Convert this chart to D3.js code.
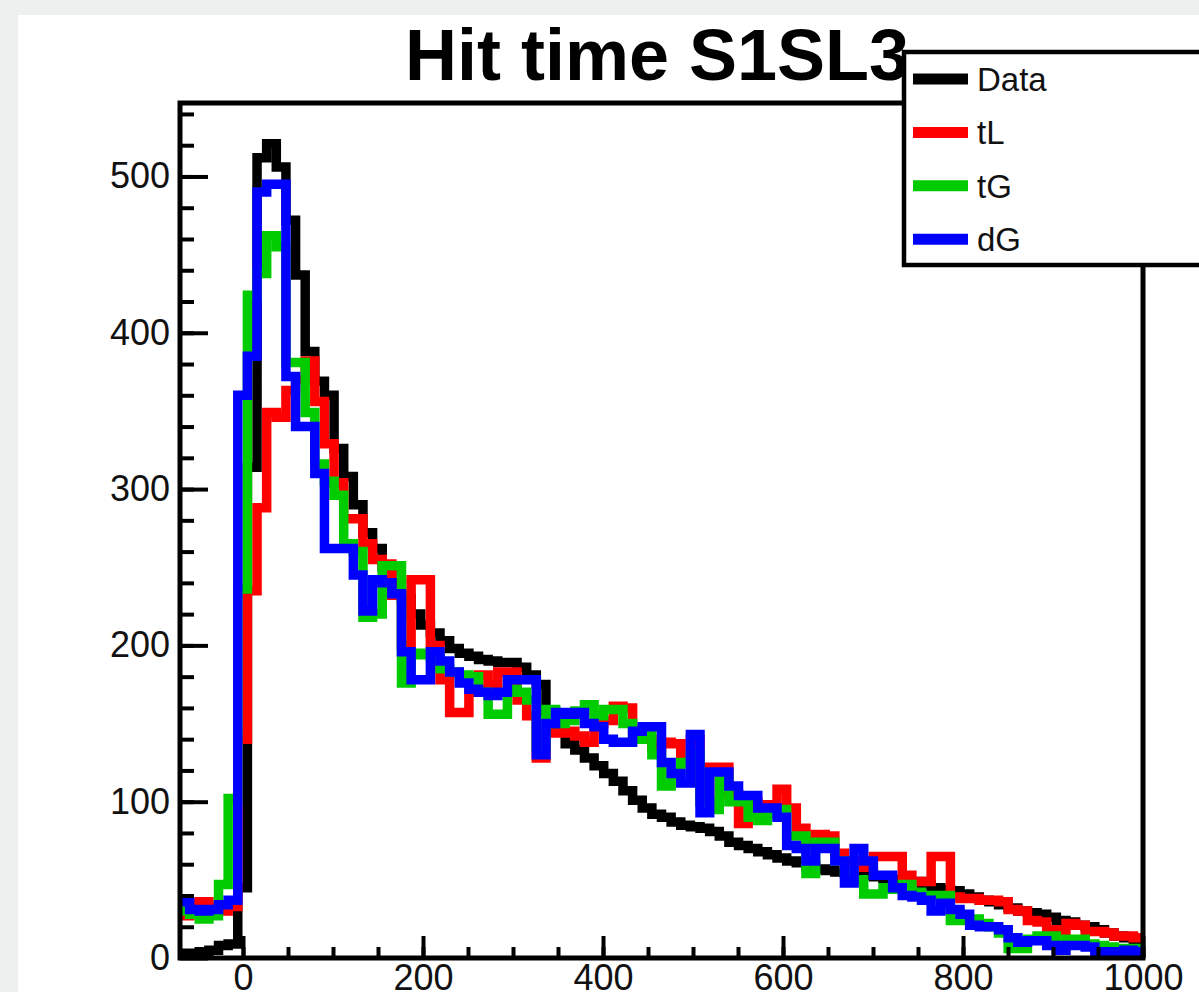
<!DOCTYPE html>
<html>
<head>
<meta charset="utf-8">
<script src="https://cdn.jsdelivr.net/npm/d3@7"></script>
<style>
  body { margin: 0; background: #eef0ef; }
  svg { display: block; font-family: "Liberation Sans", Arial, sans-serif; }
</style>
</head>
<body>
<svg id="chart"></svg>
<script>
// 100 bins from -70 to 1000
const binLow = -70, binWidth = 10.7;

const dataCounts = [
  3, 3, 4, 5, 8, 9, 45, 314, 512, 521,
  506, 472, 437, 388, 369, 360, 326, 308, 290, 272,
  262, 250, 240, 230, 220, 213, 208, 203, 198, 195,
  193, 191, 190, 189, 189, 186, 181, 175, 158, 145,
  137, 133, 128, 123, 118, 113, 107, 101, 96, 92,
  90, 87, 85, 84, 83, 81, 78, 74, 72, 70,
  68, 66, 64, 62, 61, 59, 57, 56, 55, 54,
  53, 53, 52, 51, 50, 49, 49, 47, 45, 44,
  43, 41, 39, 37, 36, 34, 32, 30, 29, 28,
  26, 24, 23, 21, 20, 18, 16, 14, 13, 11
];
const tLCounts = [
  27, 35, 36, 33, 30, 33, 140, 235, 288, 349,
  346, 363, 370, 382, 356, 329, 304, 281, 281, 265,
  255, 252, 232, 200, 242, 242, 200, 178, 157, 157,
  170, 181, 175, 183, 183, 165, 155, 128, 144, 144,
  145, 142, 138, 150, 152, 161, 160, 146, 140, 135,
  138, 137, 125, 140, 100, 122, 122, 105, 86, 100,
  95, 98, 108, 96, 83, 70, 79, 78, 67, 60,
  62, 58, 65, 65, 65, 53, 49, 49, 65, 65,
  39, 38, 38, 37, 37, 36, 31, 30, 24, 23,
  18, 17, 22, 21, 17, 17, 16, 14, 14, 13
];
const tGCounts = [
  30, 28, 25, 27, 47, 102, 236, 424, 438, 462,
  455, 381, 381, 349, 316, 305, 296, 265, 260, 218,
  220, 251, 251, 176, 195, 194, 193, 185, 183, 181,
  180, 170, 156, 156, 172, 170, 165, 135, 159, 150,
  152, 158, 162, 155, 159, 159, 150, 140, 145, 130,
  110, 118, 125, 130, 100, 95, 115, 100, 100, 90,
  88, 92, 95, 78, 78, 54, 74, 74, 62, 55,
  50, 41, 41, 45, 44, 47, 42, 40, 40, 40,
  24, 24, 25, 22, 20, 16, 6, 6, 12, 14,
  14, 10, 12, 12, 9, 8, 7, 6, 6, 6
];
const dGCounts = [
  36, 31, 30, 31, 34, 37, 360, 385, 490, 495,
  495, 372, 340, 340, 310, 262, 262, 262, 245, 222,
  242, 240, 233, 196, 178, 178, 196, 190, 183, 176,
  172, 170, 168, 170, 178, 178, 178, 130, 150, 157,
  156, 157, 150, 148, 140, 138, 138, 145, 148, 148,
  125, 118, 112, 143, 93, 119, 119, 110, 104, 104,
  96, 96, 90, 72, 70, 62, 70, 70, 62, 48,
  70, 62, 53, 53, 45, 40, 39, 37, 30, 35,
  31, 28, 21, 20, 20, 18, 13, 10, 11, 11,
  8, 5, 8, 8, 7, 4, 4, 4, 5, 4
];

const seriesNames = ["Data", "tL", "tG", "dG"];
const seriesColors = ["#000000", "#ff0000", "#00cc00", "#0000ff"];
const seriesCounts = [dataCounts, tLCounts, tGCounts, dGCounts];

const xTickValues = [0, 200, 400, 600, 800, 1000];
const yTickValues = [0, 100, 200, 300, 400, 500];

const width = 1199, height = 992;
const frame = { left: 180, top: 103, right: 1143, bottom: 958 };

const svg = d3.select("#chart")
    .attr("width", width)
    .attr("height", height);

// white pad
svg.append("rect")
    .attr("x", 18)
    .attr("y", 15)
    .attr("width", width)
    .attr("height", height)
    .attr("fill", "#ffffff");

const x = d3.scaleLinear().domain([-70, 1000]).range([frame.left, frame.right]);
const y = d3.scaleLinear().domain([0, 547]).range([frame.bottom, frame.top]);

svg.append("clipPath")
    .attr("id", "frameClip")
    .append("rect")
    .attr("x", frame.left)
    .attr("y", frame.top)
    .attr("width", frame.right - frame.left)
    .attr("height", frame.bottom - frame.top);

// staircase points for one histogram
function steps(counts) {
    const pts = [];
    counts.forEach((c, i) => {
        const lo = binLow + i * binWidth;
        pts.push([lo, c], [lo + binWidth, c]);
    });
    return pts;
}

const line = d3.line().x(d => x(d[0])).y(d => y(d[1]));

const hists = svg.append("g").attr("clip-path", "url(#frameClip)");
seriesCounts.forEach((counts, i) => {
    hists.append("path")
        .attr("d", line(steps(counts)))
        .attr("fill", "none")
        .attr("stroke", seriesColors[i])
        .attr("stroke-width", 9.5)
        .attr("stroke-linejoin", "miter");
});

// axes (ticks point inside the frame)
svg.append("g")
    .attr("transform", `translate(${frame.left},0)`)
    .call(d3.axisLeft(y).tickValues(yTickValues).tickSize(-28).tickPadding(10));
svg.append("g")
    .attr("transform", `translate(${frame.left},0)`)
    .call(d3.axisLeft(y).tickValues(d3.range(20, 541, 20)).tickSize(-14).tickFormat(""));

svg.append("g")
    .attr("transform", `translate(0,${frame.bottom})`)
    .call(d3.axisBottom(x).tickValues(xTickValues).tickFormat(d3.format("d"))
        .tickSize(-22).tickPadding(6));
svg.append("g")
    .attr("transform", `translate(0,${frame.bottom})`)
    .call(d3.axisBottom(x).tickValues(d3.range(-50, 1001, 50)).tickSize(-11).tickFormat(""));

svg.selectAll(".domain").remove();
svg.selectAll(".tick line").attr("stroke", "#000").attr("stroke-width", 4);
svg.selectAll(".tick text")
    .attr("fill", "#111")
    .style("font-size", "36px")
    .style("font-family", "'Liberation Sans', Arial, sans-serif");

// frame
svg.append("rect")
    .attr("x", frame.left)
    .attr("y", frame.top)
    .attr("width", frame.right - frame.left)
    .attr("height", frame.bottom - frame.top)
    .attr("fill", "none")
    .attr("stroke", "#000")
    .attr("stroke-width", 5);

// title
svg.append("text")
    .attr("x", 657)
    .attr("y", 80)
    .attr("text-anchor", "middle")
    .style("font-size", "72px")
    .style("font-weight", "bold")
    .text("Hit time S1SL3");

// legend
const legend = svg.append("g");
legend.append("rect")
    .attr("x", 904)
    .attr("y", 52)
    .attr("width", 400)
    .attr("height", 213)
    .attr("fill", "#fff")
    .attr("stroke", "#000")
    .attr("stroke-width", 4.5);

seriesNames.forEach((name, i) => {
    const ly = 79 + i * 53.4;
    legend.append("line")
        .attr("x1", 913)
        .attr("x2", 968)
        .attr("y1", ly)
        .attr("y2", ly)
        .attr("stroke", seriesColors[i])
        .attr("stroke-width", 11);
    legend.append("text")
        .attr("x", 977)
        .attr("y", ly)
        .attr("dy", "0.36em")
        .style("font-size", "33px")
        .attr("fill", "#111")
        .text(name);
});
</script>
</body>
</html>
